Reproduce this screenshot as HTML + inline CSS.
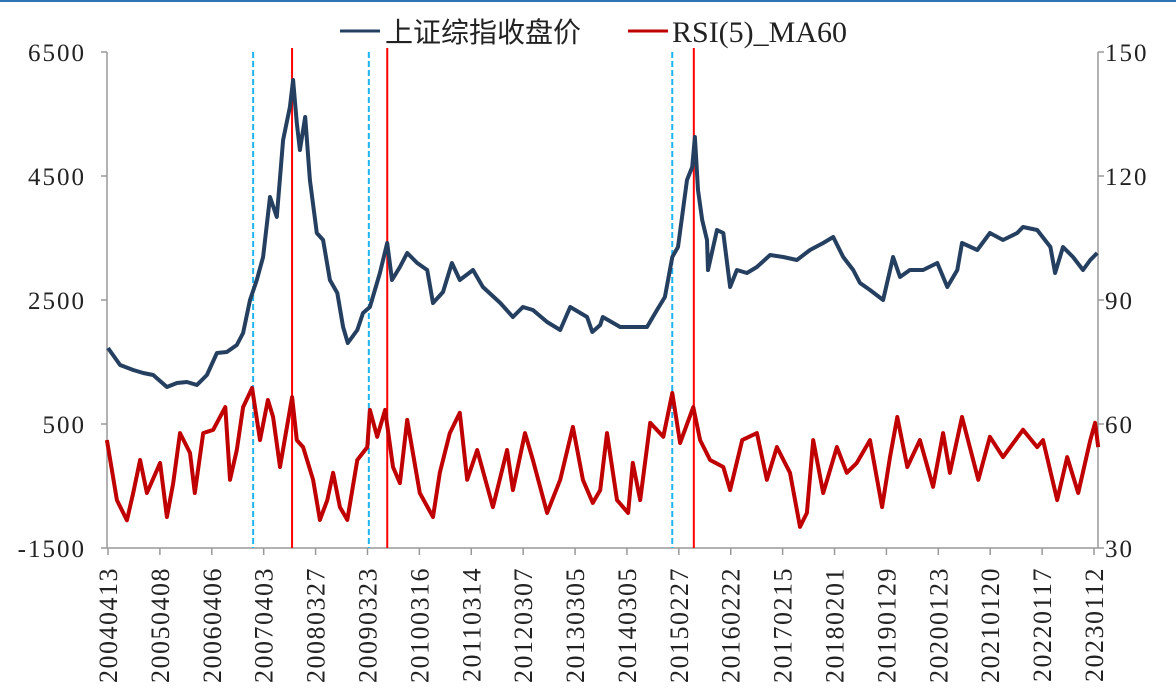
<!DOCTYPE html>
<html><head><meta charset="utf-8"><style>
html,body{margin:0;padding:0;background:#fff;}
svg{display:block;}
text{font-family:"Liberation Serif","Noto Serif CJK SC",serif;fill:#222;}
</style></head><body>
<svg id="chart" width="1176" height="696" viewBox="0 0 1176 696" xmlns="http://www.w3.org/2000/svg">
<rect x="0" y="0" width="1176" height="2" fill="#2e75b6"/>
<g>
<line x1="340" y1="31" x2="380" y2="31" stroke="#243f60" stroke-width="3"/>
<text x="385" y="42" font-size="28" style="font-family:'Noto Sans CJK SC',sans-serif">上证综指收盘价</text>
<line x1="628" y1="31" x2="668" y2="31" stroke="#c00000" stroke-width="3"/>
<text x="672" y="42" font-size="30">RSI(5)_MA60</text>
</g>
<g id="axes"></g>
<g id="events"></g>
<g id="series"></g>
</svg>
<script>
const xTickLabels=["20040413","20050408","20060406","20070403","20080327","20090323","20100316","20110314","20120307","20130305","20140305","20150227","20160222","20170215","20180201","20190129","20200123","20210120","20220117","20230112"];
const leftTicks=[6500,4500,2500,500,-1500];
const rightTicks=[150,120,90,60,30];
const idxYears=[2004.28,2004.51,2004.76,2004.95,2005.14,2005.40,2005.59,2005.78,2005.97,2006.16,2006.35,2006.54,2006.73,2006.85,2006.98,2007.11,2007.23,2007.36,2007.49,2007.61,2007.74,2007.80,2007.87,2007.93,2008.03,2008.12,2008.25,2008.37,2008.50,2008.64,2008.75,2008.84,2009.02,2009.13,2009.26,2009.45,2009.59,2009.68,2009.83,2009.97,2010.16,2010.35,2010.46,2010.65,2010.82,2010.97,2011.22,2011.41,2011.74,2011.98,2012.17,2012.36,2012.63,2012.88,2013.07,2013.39,2013.49,2013.64,2013.69,2014.02,2014.26,2014.53,2014.72,2014.87,2015.01,2015.12,2015.29,2015.39,2015.44,2015.50,2015.58,2015.67,2015.69,2015.86,2015.98,2016.11,2016.24,2016.43,2016.62,2016.87,2017.12,2017.38,2017.63,2017.88,2018.07,2018.26,2018.45,2018.58,2018.77,2019.02,2019.21,2019.34,2019.53,2019.78,2020.05,2020.24,2020.43,2020.52,2020.81,2021.05,2021.30,2021.57,2021.68,2021.95,2022.20,2022.29,2022.44,2022.63,2022.82,2022.96,2023.09];
const idxValues=[1726,1451,1371,1322,1290,1096,1161,1177,1129,1290,1645,1661,1774,1968,2500,2822,3193,4161,3839,5081,5613,6048,5355,4919,5452,4435,3580,3468,2822,2613,2064,1806,2016,2290,2387,2935,3419,2822,3032,3258,3097,2984,2451,2629,3097,2822,2984,2710,2451,2226,2387,2338,2145,2016,2387,2226,1984,2097,2226,2064,2064,2064,2338,2548,3193,3355,4435,4645,5129,4274,3790,3468,2984,3629,3580,2710,2984,2935,3032,3226,3193,3145,3306,3419,3516,3193,2984,2774,2661,2500,3193,2871,2984,2984,3097,2710,2984,3419,3306,3580,3468,3580,3677,3629,3355,2935,3355,3193,2984,3145,3258];
const rsiYears=[2004.26,2004.45,2004.64,2004.76,2004.89,2005.02,2005.27,2005.40,2005.52,2005.65,2005.84,2005.93,2006.09,2006.28,2006.51,2006.60,2006.73,2006.85,2007.02,2007.17,2007.32,2007.42,2007.55,2007.78,2007.87,2007.99,2008.18,2008.31,2008.45,2008.56,2008.69,2008.83,2009.02,2009.21,2009.26,2009.40,2009.55,2009.70,2009.83,2009.97,2010.21,2010.46,2010.59,2010.78,2010.97,2011.11,2011.30,2011.60,2011.87,2011.98,2012.21,2012.36,2012.63,2012.88,2013.12,2013.31,2013.50,2013.64,2013.77,2013.96,2014.17,2014.26,2014.40,2014.59,2014.84,2015.01,2015.16,2015.41,2015.54,2015.73,2015.98,2016.11,2016.34,2016.62,2016.81,2017.00,2017.25,2017.44,2017.57,2017.69,2017.88,2018.14,2018.33,2018.52,2018.77,2019.00,2019.15,2019.29,2019.48,2019.72,2019.97,2020.16,2020.29,2020.52,2020.83,2021.05,2021.30,2021.68,2021.95,2022.06,2022.33,2022.52,2022.73,2022.96,2023.05,2023.11];
const rsiValues=[56.1,41.6,36.7,43.3,51.3,43.3,50.6,37.5,45.7,57.8,53.0,43.3,57.8,58.6,64.1,46.5,53.7,64.1,68.7,56.1,65.8,61.7,49.6,66.5,56.1,54.4,46.5,36.8,41.6,48.2,39.9,36.8,51.3,54.4,63.4,56.9,63.4,49.6,45.7,61.0,43.3,37.5,48.2,57.8,62.7,46.5,53.7,39.9,53.7,44.0,57.8,51.3,38.5,46.5,59.3,46.5,40.9,44.0,57.8,41.6,38.5,50.6,41.6,60.3,56.9,67.5,55.4,64.1,56.1,51.3,49.6,44.0,56.1,57.8,46.5,54.4,48.2,35.1,38.5,56.1,43.3,54.4,48.2,50.6,56.1,39.9,52.0,61.7,49.6,56.1,44.8,57.8,48.2,61.7,46.5,56.9,52.0,58.6,54.4,56.1,41.6,52.0,43.3,56.1,60.3,54.4];
const buySignalYears=[2007.04,2009.24,2015.01];
const sellSignalYears=[2007.78,2009.59,2015.42];

const NS="http://www.w3.org/2000/svg";
const X0=107,X1=1098,YT=52,YB=548;
const tickX0=108,tickX1=1094;
const yr0=2004.28,yr1=2023.03;
function xs(yr){return tickX0+(yr-yr0)/(yr1-yr0)*(tickX1-tickX0);}
function yl(v){return YT+(6500-v)/8000*(YB-YT);}
function yr(v){return YT+(150-v)/120*(YB-YT);}
function mk(tag,attrs,parent){const e=document.createElementNS(NS,tag);for(const k in attrs)e.setAttribute(k,attrs[k]);parent.appendChild(e);return e;}
const axes=document.getElementById('axes');
let a=mk('line',{x1:X0,y1:YT,x2:X0,y2:YB,stroke:'#999','stroke-width':1.5},axes);


a=mk('line',{x1:X1,y1:YT,x2:X1,y2:YB,stroke:'#999','stroke-width':1.5},axes);


a=mk('line',{x1:X0,y1:YB,x2:X1,y2:YB,stroke:'#999','stroke-width':1.5},axes);


leftTicks.forEach(v=>{
  const y=yl(v);
  const t=mk('line',{x1:X0-6,y1:y,x2:X0,y2:y,stroke:'#999','stroke-width':1.5},axes);
  
  
  const l=mk('text',{x:86,y:y+9,'text-anchor':'end','font-size':25,'letter-spacing':'2'},axes);
  l.textContent=v;
  
  
});
rightTicks.forEach(v=>{
  const y=yr(v);
  const t=mk('line',{x1:X1,y1:y,x2:X1+6,y2:y,stroke:'#999','stroke-width':1.5},axes);
  
  
  const l=mk('text',{x:1105,y:y+9,'font-size':25,'letter-spacing':'2'},axes);
  l.textContent=v;
  
  
});
xTickLabels.forEach((s,i)=>{
  const x=tickX0+i*(tickX1-tickX0)/(xTickLabels.length-1);
  const t=mk('line',{x1:x,y1:YB,x2:x,y2:YB+7,stroke:'#999','stroke-width':1.5},axes);
  
  
  const l=mk('text',{x:0,y:0,'text-anchor':'end','font-size':26,'letter-spacing':'1.5',transform:`translate(${x+9},${567}) rotate(-90)`},axes);
  l.textContent=s;
  
  
});
const ev=document.getElementById('events');
buySignalYears.forEach(d=>{
  const l=mk('line',{x1:xs(d),y1:YT,x2:xs(d),y2:YB,stroke:'#1fb4f0','stroke-width':2,'stroke-dasharray':'6,3'},ev);
  
  
});
sellSignalYears.forEach(d=>{
  const l=mk('line',{x1:xs(d),y1:YT-4,x2:xs(d),y2:YB,stroke:'#ff0000','stroke-width':2},ev);
  
  
});
const ser=document.getElementById('series');
let p=mk('polyline',{points:idxYears.map((d,i)=>xs(d).toFixed(1)+','+yl(idxValues[i]).toFixed(1)).join(' '),fill:'none',stroke:'#243f60','stroke-width':4,'stroke-linejoin':'round'},ser);


p=mk('polyline',{points:rsiYears.map((d,i)=>xs(d).toFixed(1)+','+yr(rsiValues[i]).toFixed(1)).join(' '),fill:'none',stroke:'#c00000','stroke-width':4,'stroke-linejoin':'round'},ser);


</script>
</body></html>
